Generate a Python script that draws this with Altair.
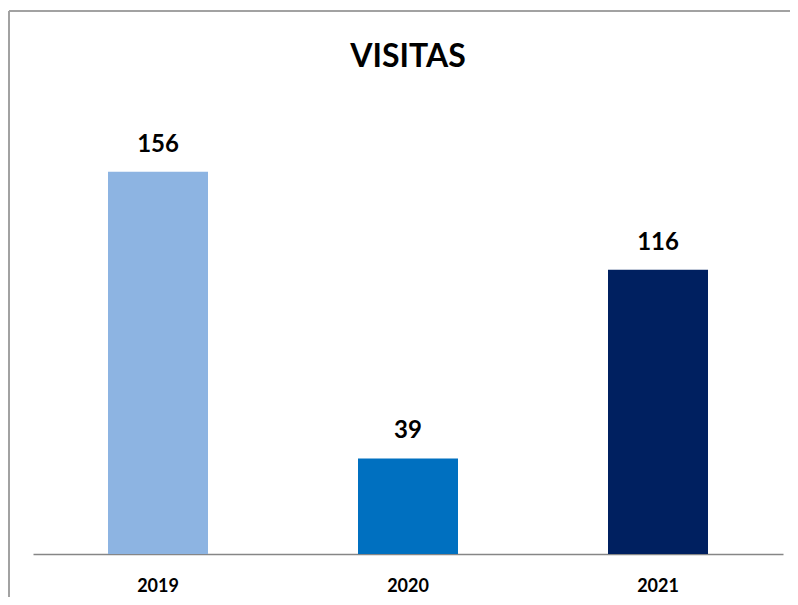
import altair as alt
import pandas as pd

title_text = "VISITAS"
years = ["2019", "2020", "2021"]
visitas = [156, 39, 116]
colors = ["#8DB4E2", "#0070C0", "#002060"]

df = pd.DataFrame({"year": years, "visitas": visitas})
df_title = pd.DataFrame({"t": [title_text]})

W, H = 750, 441
x_enc = alt.X("year:N", sort=years,
              scale=alt.Scale(paddingInner=0.6, paddingOuter=0.3),
              axis=alt.Axis(title=None, labelAngle=0, ticks=False, grid=False,
                            domainColor="#868686", domainWidth=1.5,
                            labelFont="Lato", labelFontWeight="bold",
                            labelFontSize=18, labelColor="#000000",
                            labelBaseline="alphabetic", labelPadding=37))
y_enc = alt.Y("visitas:Q", scale=alt.Scale(domain=[0, 180], nice=False, zero=True),
              axis=None)

bars = alt.Chart(df).mark_bar().encode(
    x=x_enc, y=y_enc,
    color=alt.Color("year:N", scale=alt.Scale(domain=years, range=colors), legend=None),
)

labels = alt.Chart(df).mark_text(
    font="Lato", fontWeight="bold", fontSize=24, color="#000000",
    baseline="alphabetic", dy=-20,
).encode(x=alt.X("year:N", sort=years), y=alt.Y("visitas:Q"), text="visitas:Q")

title = alt.Chart(df_title).mark_text(
    font="Lato", fontWeight="bold", fontSize=32, color="#000000",
    baseline="alphabetic", align="center",
).encode(x=alt.value(W / 2), y=alt.value(-46), text="t:N")

border_left = alt.Chart(df).mark_rule(color="#A0A0A0", strokeWidth=1.5).encode(
    x=alt.value(-24), y=alt.value(-102), y2=alt.value(H + 60))
border_top = alt.Chart(df).mark_rule(color="#A0A0A0", strokeWidth=1.5).encode(
    x=alt.value(-24), x2=alt.value(W + 20), y=alt.value(-102))

chart = alt.layer(border_left, border_top, bars, labels, title).properties(
    width=W, height=H,
    autosize=alt.AutoSizeParams(type="none"),
    padding={"left": 25, "top": 105, "right": 7, "bottom": 43},
).configure_view(stroke=None)

chart.save("out.html", embed_options={"renderer": "svg", "actions": False})
